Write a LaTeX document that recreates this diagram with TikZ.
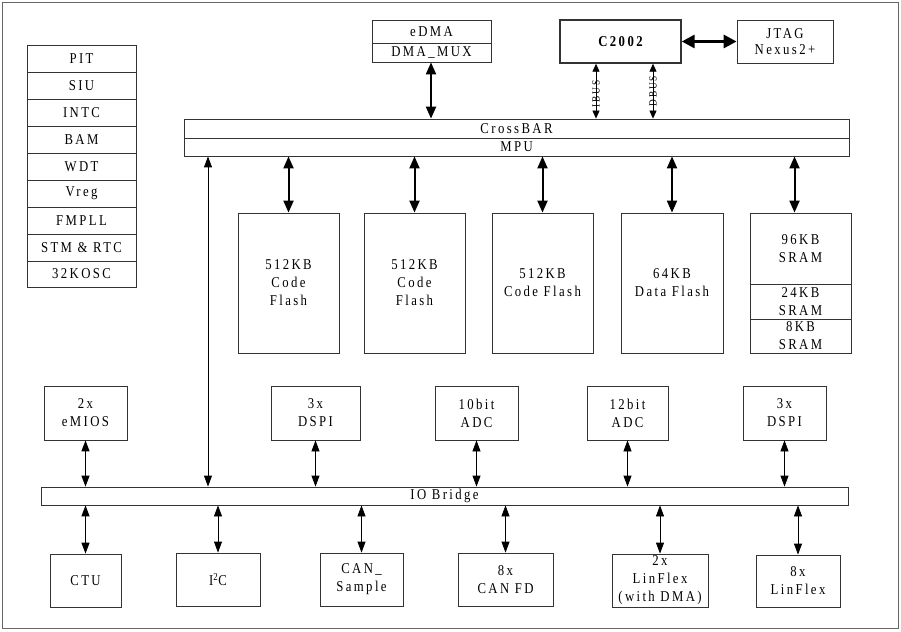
\documentclass[tikz,border=0pt]{standalone}
\usepackage{fontspec}
\setmainfont{Liberation Serif}[LetterSpace=16,FakeStretch=0.85]
\usetikzlibrary{arrows.meta}
\newcommand\bx[7][]{\node[box,#1,minimum width={(#5-#3)*1pt},minimum height={(#6-#4)*1pt}] (#2) at ({(#3+#5)/2},{(#4+#6)/2}) {#7};}
\begin{document}
\begin{tikzpicture}[x=1pt,y=-1pt,
  box/.style={draw=black!80,line width=0.8pt,inner sep=0pt,align=center,font=\fontsize{15}{18}\selectfont},
  hugearr/.style={line width=3pt,{Triangle[length=13pt,width=13pt]}-{Triangle[length=13pt,width=13pt]}},
  fatarr/.style={line width=2pt,{Triangle[length=12pt,width=10pt]}-{Triangle[length=12pt,width=10pt]}},
  midarr/.style={line width=1.3pt,{Triangle[length=11pt,width=8pt]}-{Triangle[length=11pt,width=8pt]}},
  thinarr/.style={line width=0.8pt,{Triangle[length=11pt,width=8pt]}-{Triangle[length=11pt,width=8pt]}},
  busarr/.style={line width=0.8pt,{Triangle[length=8pt,width=7pt]}-{Triangle[length=8pt,width=7pt]}},
  buslbl/.style={rotate=90,font=\fontsize{11}{11}\selectfont,inner sep=0pt}]
\useasboundingbox (0,0) rectangle (901,631);
\draw[black!60,line width=0.8pt] (2.5,2.5) rectangle (898,628);
% left stack
\bx{l1}{27}{45}{136}{72}{PIT}
\bx{l2}{27}{72}{136}{99}{SIU}
\bx{l3}{27}{99}{136}{126}{INTC}
\bx{l4}{27}{126}{136}{153}{BAM}
\bx{l5}{27}{153}{136}{180}{WDT}
\bx{l6}{27}{180}{136}{207}{Vreg}
\bx{l7}{27}{207}{136}{234}{FMPLL}
\bx{l8}{27}{234}{136}{261}{STM \& RTC}
\bx{l9}{27}{261}{136}{287}{32KOSC}
% top
\bx{edma}{372}{20}{491}{43}{eDMA}
\bx{dmamux}{372}{43}{491}{62}{DMA\_MUX}
\bx[font=\fontsize{15}{15}\selectfont\bfseries,line width=1.4pt]{c2002}{560}{20}{681}{63}{C2002}
\bx{jtag}{737}{20}{833}{63}{JTAG\\[-2pt]Nexus2+}
% crossbar
\bx{xbar}{184}{119}{849}{138}{CrossBAR}
\bx{mpu}{184}{138}{849}{156}{MPU}
% memories
\bx{f1}{238}{213}{339}{353}{512KB\\Code\\Flash}
\bx{f2}{364}{213}{465}{353}{512KB\\Code\\Flash}
\bx{f3}{492}{213}{593}{353}{512KB\\Code Flash}
\bx{f4}{621}{213}{723}{353}{64KB\\Data Flash}
\bx{s96}{750}{213}{851}{284}{96KB\\SRAM}
\bx{s24}{750}{284}{851}{319}{24KB\\SRAM}
\bx{s8}{750}{319}{851}{353}{8KB\\SRAM}
% IO peripherals top row
\bx{emios}{44}{386}{127}{440}{2x\\eMIOS}
\bx{dspia}{271}{386}{360}{440}{3x\\DSPI}
\bx{adca}{435}{386}{518}{440}{10bit\\ADC}
\bx{adcb}{587}{386}{668}{440}{12bit\\ADC}
\bx{dspib}{743}{386}{826}{440}{3x\\DSPI}
% IO bridge
\bx{iob}{41}{487}{848}{505}{IO Bridge}
% bottom row
\bx{ctu}{50}{554}{121}{607}{CTU}
\bx{iic}{176}{553}{260}{606}{I\textsuperscript{2}C}
\bx{cans}{320}{553}{403}{606}{CAN\_\\Sample}
\bx{canfd}{458}{553}{553}{606}{8x\\CAN FD}
\bx{lina}{612}{554}{708}{607}{2x\\LinFlex\\(with DMA)}
\bx{linb}{756}{555}{840}{607}{8x\\LinFlex}
% connectors
\draw[hugearr] (c2002.east) -- (jtag.west);
\draw[fatarr] ([xshift=-0.5pt]dmamux.south) -- ([xshift=-0.5pt]dmamux.south |- xbar.north);
\coordinate (ib) at (596,0);
\coordinate (db) at (653,0);
\draw[busarr] (ib |- c2002.south) -- node[buslbl,pos=0.55]{IBUS} (ib |- xbar.north);
\draw[busarr] (db |- c2002.south) -- node[buslbl,pos=0.5]{DBUS} (db |- xbar.north);
\draw[fatarr] (mpu.south -| f1.north) -- (f1.north);
\draw[fatarr] (mpu.south -| f2.north) -- (f2.north);
\draw[fatarr] (mpu.south -| f3.north) -- (f3.north);
\draw[fatarr] (mpu.south -| f4.north) -- (f4.north);
\draw[fatarr] ([xshift=-6pt]s96.north |- mpu.south) -- ([xshift=-6pt]s96.north);
\coordinate (vl) at (208,0);
\draw[thinarr] (vl |- mpu.south) -- (vl |- iob.north);
\draw[midarr] (emios.south) -- (emios.south |- iob.north);
\draw[thinarr] (dspia.south) -- (dspia.south |- iob.north);
\draw[thinarr] (adca.south) -- (adca.south |- iob.north);
\draw[thinarr] (adcb.south) -- (adcb.south |- iob.north);
\draw[thinarr] (dspib.south) -- (dspib.south |- iob.north);
\draw[midarr] (iob.south -| ctu.north) -- (ctu.north);
\draw[thinarr] (iob.south -| iic.north) -- (iic.north);
\draw[thinarr] (iob.south -| cans.north) -- (cans.north);
\draw[thinarr] (iob.south -| canfd.north) -- (canfd.north);
\draw[thinarr] (iob.south -| lina.north) -- (lina.north);
\draw[thinarr] (iob.south -| linb.north) -- (linb.north);
\end{tikzpicture}
\end{document}
